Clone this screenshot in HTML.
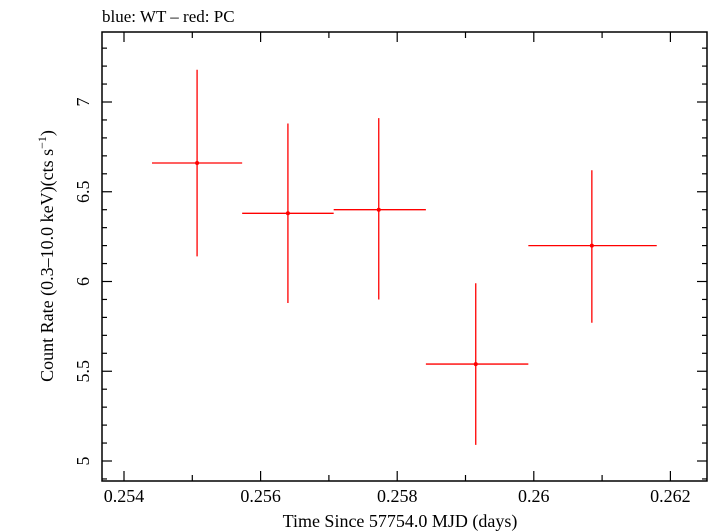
<!DOCTYPE html>
<html><head><meta charset="utf-8">
<style>
html,body{margin:0;padding:0;background:#fff;}
svg{display:block;font-family:"Liberation Serif","DejaVu Serif",serif;}
</style></head>
<body>
<svg id="chart" width="709" height="532" viewBox="0 0 709 532" xmlns="http://www.w3.org/2000/svg">
<text x="102" y="22" font-size="17">blue: WT – red: PC</text>
<rect x="102" y="32" width="605" height="449" fill="none" stroke="#000" stroke-width="1.5"/>
<g id="axes"></g>
<g id="marks"></g>
<text x="400" y="527" font-size="18" text-anchor="middle">Time Since 57754.0 MJD (days)</text>
<text transform="translate(53,256) rotate(-90)" font-size="18" text-anchor="middle">Count Rate (0.3–10.0 keV)(cts s<tspan font-size="12" dy="-7">−1</tspan><tspan dy="7">)</tspan></text>
</svg>
<script>
const timeValues = [0.25507, 0.25640, 0.25773, 0.25915, 0.26085];
const timeLow = [0.25441, 0.25573, 0.25707, 0.25842, 0.25992];
const timeHigh = [0.25573, 0.25707, 0.25842, 0.25992, 0.26180];
const rateValues = [6.66, 6.38, 6.40, 5.54, 6.20];
const rateLow = [6.14, 5.88, 5.90, 5.09, 5.77];
const rateHigh = [7.18, 6.88, 6.91, 5.99, 6.62];
const xTickValues = [0.254, 0.256, 0.258, 0.26, 0.262];
const xTickLabels = ["0.254", "0.256", "0.258", "0.26", "0.262"];
const yTickValues = [5, 5.5, 6, 6.5, 7];
const yTickLabels = ["5", "5.5", "6", "6.5", "7"];

const L=102,R=707,T=32,B=481;
function xs(v){return 124+(v-0.254)/0.002*136.6;}
function ys(v){return 461-(v-5)*179.5;}
const NS="http://www.w3.org/2000/svg";
function mk(tag,attrs,parent){const e=document.createElementNS(NS,tag);for(const k in attrs)e.setAttribute(k,attrs[k]);parent.appendChild(e);return e;}
const ax=document.getElementById('axes');
for(let k=2535;k<=2630;k+=5){
  const r=k/10000;
  const x=xs(r); if(x<L||x>R)continue;
  if(k%10!==0)continue;
  const len=(k%20===0)?10:6;
  let t=mk('line',{x1:x,x2:x,y1:B,y2:B-len,stroke:'#000','stroke-width':1.2},ax);
  
  
  t=mk('line',{x1:x,x2:x,y1:T,y2:T+len,stroke:'#000','stroke-width':1.2},ax);
  
  
}
xTickValues.forEach((v,i)=>{
  const t=mk('text',{x:xs(v),y:502,'font-size':18,'text-anchor':'middle'},ax);
  t.textContent=xTickLabels[i];
  
  
});
for(let k=48;k<=74;k++){
  const v=k/10;const y=ys(v); if(y<T||y>B)continue;
  const len=(k%5===0)?10:5;
  let t=mk('line',{x1:L,x2:L+len,y1:y,y2:y,stroke:'#000','stroke-width':1.2},ax);
  
  
  t=mk('line',{x1:R,x2:R-len,y1:y,y2:y,stroke:'#000','stroke-width':1.2},ax);
  
  
}
yTickValues.forEach((v,i)=>{
  const t=mk('text',{transform:`translate(89,${ys(v)}) rotate(-90)`,'font-size':18,'text-anchor':'middle'},ax);
  t.textContent=yTickLabels[i];
  
  
});
const mg=document.getElementById('marks');
timeValues.forEach((tv,i)=>{
  const g=mk('g',{},mg);
  
  
  const cx=xs(tv),cy=ys(rateValues[i]);
  mk('line',{x1:xs(timeLow[i]),x2:xs(timeHigh[i]),y1:cy,y2:cy,stroke:'#f00','stroke-width':1.3},g);
  mk('line',{x1:cx,x2:cx,y1:ys(rateLow[i]),y2:ys(rateHigh[i]),stroke:'#f00','stroke-width':1.3},g);
  mk('circle',{cx:cx,cy:cy,r:2,fill:'#f00'},g);
});
</script>
</body></html>
